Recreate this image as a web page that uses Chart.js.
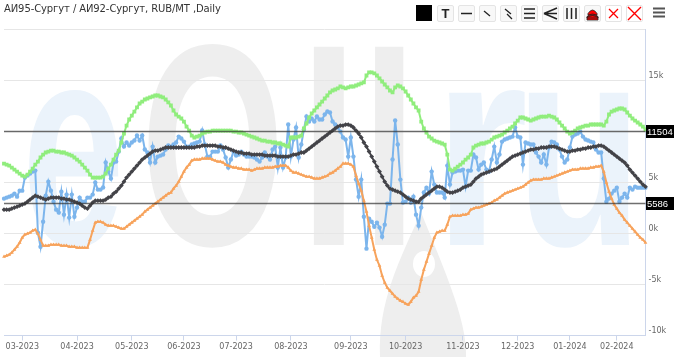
<!DOCTYPE html>
<html><head><meta charset="utf-8">
<script src="https://cdn.jsdelivr.net/npm/chart.js@4/dist/chart.umd.min.js"></script>
<style>
html,body{margin:0;padding:0;background:#fff;width:680px;height:357px;overflow:hidden}
#wrap{position:relative;width:680px;height:357px}
canvas{position:absolute;left:0;top:0}
#title{position:absolute;left:4px;top:3px;font:10px "DejaVu Sans",sans-serif;letter-spacing:-.1px;color:#333;white-space:nowrap}
.b{position:absolute;top:5px;width:15px;height:15px;border:1px solid #e4e4e4;border-radius:2px;background:#f8f8f8}
.b svg{display:block}
.b span{display:block;text-align:center;font:bold 13px/15px "Liberation Sans",sans-serif;color:#222}
</style></head><body>
<div id="wrap">
<canvas id="c" width="680" height="357"></canvas>
<div id="title">АИ95-Сургут / АИ92-Сургут, RUB/MT ,Daily</div>
<div style="position:absolute;left:416px;top:5px;width:16px;height:16px;background:#000"></div>
<div class="b" style="left:437px"><span>T</span></div>
<div class="b" style="left:458px"><svg width="15" height="15"><path d="M2 7.5H13" stroke="#222" stroke-width="1.5"/></svg></div>
<div class="b" style="left:479px"><svg width="15" height="15"><path d="M4 5L10 10" stroke="#222" stroke-width="1.3"/></svg></div>
<div class="b" style="left:500px"><svg width="15" height="15"><path d="M4 3L10 8M6 8L11 13" stroke="#222" stroke-width="1.3"/></svg></div>
<div class="b" style="left:521px"><svg width="15" height="15"><path d="M2 3H13M2 7.5H13M2 12H13" stroke="#222" stroke-width="1.5"/></svg></div>
<div class="b" style="left:542px"><svg width="15" height="15"><path d="M14 2L1 7.5H14M1 7.5L14 13" stroke="#222" stroke-width="1.5" fill="none"/></svg></div>
<div class="b" style="left:563px"><svg width="15" height="15"><path d="M3 2V13M7.5 2V13M12 2V13" stroke="#222" stroke-width="1.5"/></svg></div>
<div class="b" style="left:584px"><svg width="15" height="15"><path d="M2 14V11Q7.5 8 13 11V14ZM2 10.5Q7.5 5.5 13 10.5V12H2ZM3 7.5Q7.5 .5 12 7.5V9H3Z" fill="#f00" stroke="#222" stroke-width=".8"/></svg></div>
<div class="b" style="left:605px;background:#fff"><svg width="15" height="15"><path d="M3 3L12 12M12 3L3 12" stroke="#f00" stroke-width="1.3"/></svg></div>
<div class="b" style="left:626px;background:#fff"><svg width="15" height="15"><path d="M1 1L14 14M14 1L1 14" stroke="#f00" stroke-width="1.4"/></svg></div>
<svg style="position:absolute;left:653px;top:7px" width="12" height="12"><path d="M0 1.5H12M0 5.5H12M0 9.5H12" stroke="#555" stroke-width="2"/></svg>
</div>
<script>
const monthIndex=[7,28,49,69,89,110,133,154,176,197,217,235];
const monthLabels=["03-2023","04-2023","05-2023","06-2023","07-2023","08-2023","09-2023","10-2023","11-2023","12-2023","01-2024","02-2024"];
const levelValues=[10020,3010];
const levelLabels=["11504","5586"];
const yTickHidden=[20000,10000];

const spread=[
3400,3500,3590,3690,3890,3590,4180,4180,5460,5650,
5850,6040,6140,70,-1310,1140,3690,5060,4180,3100,
2320,2030,4080,1830,3790,1540,3790,1630,2520,3500,
3100,3100,3500,3500,3790,4970,4280,4280,4480,6930,
6040,5360,6930,7020,8000,9280,8490,8890,8590,8890,
9080,9570,9080,9570,8200,7910,6930,8490,6930,7510,
7610,7710,8200,8590,8490,8690,8890,9470,9280,8980,
8490,8490,8690,8790,8890,8980,10060,8690,7510,7510,
8000,8000,8000,8590,8200,7420,6440,7220,8000,7610,
7710,8000,7710,7510,7510,7510,7420,7220,7020,7420,
7910,7510,7220,8200,8490,6440,8400,6440,7420,10650,
7510,9180,10360,7420,8690,10160,11430,10940,11240,10940,
11430,11140,11140,11630,11920,11830,10940,10650,10360,9960,
9380,9180,7510,9380,7510,5260,3590,5260,1630,-1500,
1440,1140,650,1050,560,-330,850,2910,2910,7220,
11040,8690,5260,3010,3100,3500,3010,3590,1830,750,
2520,3990,4470,3890,6040,4770,3990,3990,3990,3500,
6630,4770,5950,6040,6140,6140,6240,4570,6140,6140,
7710,7420,6240,6730,6930,6240,6040,7220,8490,6930,
7710,8980,9180,9280,9380,9470,10360,9470,9380,6730,
8890,8790,8690,8690,7910,7510,6930,7710,6730,8400,
8980,8890,8690,8200,7510,6930,7220,8400,9470,9670,
9770,9960,9470,9180,9080,8980,8890,8200,7910,7910,
5360,3100,3400,3890,4180,4470,3100,3500,3890,3500,
4470,4280,4570,4470,4470,4470,4470];

const maxSpread=[
6830,6730,6630,6440,6240,6040,5850,5650,5550,5750,
6040,6340,6730,7020,7420,7710,7910,8000,8100,8100,
8000,8000,7910,7910,7810,7710,7610,7420,7220,7020,
6730,6440,6140,5750,5460,5460,5460,5460,5550,5850,
6340,6730,7220,7710,8100,8890,9770,10550,11140,11530,
11920,12320,12710,12900,13100,13200,13300,13390,13490,13490,
13390,13300,13100,12810,12510,12020,11630,11430,11240,10940,
10450,10060,9570,9380,9470,9570,9770,9870,9960,9960,
10060,10060,10060,10060,10060,10060,10060,10060,9960,9960,
9870,9870,9770,9670,9570,9470,9380,9280,9180,9080,
9080,8980,8980,8890,8890,8790,8790,8690,8590,8490,
9380,9380,9380,9470,9570,10260,10750,11340,11730,12020,
12320,12610,12900,13200,13490,13790,13980,14080,14180,14370,
14280,14180,14280,14370,14370,14470,14570,14670,14770,15450,
15750,15750,15650,15450,15160,14860,14570,14280,13980,13790,
14280,14470,14370,14180,13880,13490,13100,12710,12320,12020,
10940,10260,9870,9470,9280,9080,8980,8890,8790,8690,
7710,6240,6140,6340,6530,6730,6930,7220,7420,7710,
8400,8590,8690,8790,8790,8890,8980,9180,9380,9470,
9570,9670,9870,10060,10260,10450,10750,11040,11340,11340,
11240,11140,11040,11140,11240,11340,11430,11430,11430,11530,
11430,11340,11140,10850,10550,10260,9960,9770,9870,10060,
10260,10360,10450,10550,10550,10650,10650,10650,10650,10650,
10550,10940,11630,11920,12020,12120,12220,12220,12120,11830,
11530,11240,11040,10850,10650,10450,10160];

const minSpread=[
-2290,-2190,-2090,-1890,-1600,-1310,-910,-420,-130,-30,
70,260,360,-30,-620,-1210,-1210,-1210,-1110,-1110,
-1110,-1110,-1210,-1210,-1210,-1310,-1310,-1310,-1400,-1400,
-1400,-1400,-1400,-620,260,1050,1140,1140,1050,850,
750,750,750,650,560,460,460,650,850,1050,
1240,1440,1630,1830,2120,2320,2520,2710,2910,3100,
3300,3500,3690,3890,3990,4380,4670,5060,5550,6040,
6440,6730,7120,7220,7220,7220,7320,7320,7320,7320,
7220,7120,7020,7020,6930,6730,6630,6530,6440,6440,
6340,6340,6240,6240,6240,6140,6240,6340,6340,6340,
6440,6440,6440,6440,6530,6530,6630,6630,6630,6440,
6140,5950,5950,5850,5750,5650,5550,5550,5460,5360,
5360,5360,5460,5550,5650,5850,5950,6140,6340,6530,
6830,6830,6830,6730,6530,5650,4870,4180,3200,2120,
750,-420,-1600,-2580,-3170,-4150,-4830,-5320,-5620,-5910,
-6200,-6400,-6600,-6700,-6890,-6990,-6700,-6300,-6110,-5720,
-4540,-3560,-2780,-1990,-1210,-420,70,160,260,260,
850,1630,1730,1730,1730,1730,1830,1830,1930,2320,
2420,2520,2520,2610,2710,2810,2910,3010,3200,3300,
3500,3690,3890,3990,4080,4180,4280,4380,4470,4570,
4770,4970,5160,5260,5260,5260,5260,5360,5360,5360,
5460,5550,5650,5750,5850,5950,6040,6140,6240,6240,
6240,6340,6340,6340,6340,6440,6440,6530,6530,6630,
6040,4970,4080,3400,2810,2420,2020,1730,1340,1050,
750,460,160,-130,-420,-620,-910];

const avgSpread=[
2320,2320,2320,2420,2520,2610,2710,2810,2910,3100,
3300,3500,3690,3590,3500,3400,3300,3400,3500,3500,
3500,3500,3400,3400,3300,3300,3200,3100,3010,2910,
2710,2520,2420,2710,3010,3200,3200,3200,3200,3300,
3500,3590,3890,4080,4380,4670,5060,5460,5750,6040,
6340,6630,6930,7220,7420,7610,7810,8000,8100,8100,
8200,8300,8400,8400,8400,8400,8400,8400,8400,8400,
8400,8400,8400,8400,8490,8490,8590,8590,8590,8590,
8590,8590,8490,8490,8400,8400,8300,8200,8100,8000,
7910,7910,7810,7810,7810,7710,7710,7710,7710,7710,
7610,7610,7610,7610,7610,7510,7510,7510,7510,7510,
7610,7710,7710,7810,7910,7910,8100,8300,8490,8690,
8890,9080,9280,9470,9670,9870,10060,10260,10450,10550,
10550,10650,10650,10550,10360,10060,9770,9380,8890,8490,
8000,7510,7020,6530,6040,5550,5060,4670,4380,4280,
4180,4080,3990,3790,3590,3400,3300,3200,3100,3100,
3400,3590,3790,3990,4180,4380,4570,4570,4470,4280,
4080,3990,3990,4080,4180,4280,4470,4570,4670,4770,
5060,5360,5550,5750,5850,5950,6040,6140,6240,6340,
6530,6730,6930,7120,7320,7510,7610,7710,7810,7910,
8000,8100,8200,8200,8300,8300,8400,8400,8400,8490,
8490,8490,8400,8300,8200,8100,8000,8000,8100,8100,
8200,8200,8300,8300,8400,8400,8490,8490,8590,8590,
8490,8300,8100,7910,7710,7510,7320,7120,6930,6630,
6240,5950,5650,5360,5060,4770,4570];

const sessions=spread.map((_,i)=>String(i));

const watermark={id:'watermark',beforeDraw(ch){
  const g=ch.ctx;
  const letters=[["e",22,245,.64,"#ebf3fb"],["O",141,245,.64,"#eeeeee"],["I",300,245,.72,"#eeeeee"],["I",362,245,.68,"#eeeeee"],["r",433,245,.85,"#ebf3fb"],["u",516,245,.72,"#ebf3fb"]];
  g.save();
  g.fillStyle="#fff";g.fillRect(0,0,680,357);
  g.font='bold 288px "Liberation Sans"';
  letters.forEach(l=>{g.save();g.translate(l[1],l[2]);g.scale(l[3],1);g.fillStyle=l[4];g.fillText(l[0],0,0);g.restore();});
  g.fillStyle="#eeeeee";
  g.beginPath();g.moveTo(421,212);
  g.bezierCurveTo(400,260,378,300,380,357);
  g.lineTo(466,357);
  g.bezierCurveTo(468,320,440,260,421,212);g.fill();
  g.fillStyle="#fff";g.beginPath();g.ellipse(424,264,11,13,0,0,7);g.fill();
  g.restore();
}};

const levels={id:'levels',afterDatasetsDraw(ch){
  const g=ch.ctx,a=ch.chartArea,y=ch.scales.y;
  g.save();
  levelValues.forEach((v,i)=>{
    const p=Math.round(y.getPixelForValue(v))+.5;
    g.strokeStyle="rgba(50,50,50,.7)";g.lineWidth=1.5;
    g.beginPath();g.moveTo(a.left,p);g.lineTo(a.right,p);g.stroke();
    g.fillStyle="#000";g.fillRect(646,p-6.5,28,13);
    g.fillStyle="#fff";g.font='9.5px "Liberation Sans"';g.textBaseline="middle";g.textAlign="left";
    g.fillText(levelLabels[i],647,p+.5);
  });
  g.restore();
}};

const mk=(data,color,style,order,r)=>({data,borderColor:color,backgroundColor:color,borderWidth:2,pointStyle:style,pointRadius:r,pointBorderWidth:0,pointHoverRadius:r,tension:0,order});

new Chart(document.getElementById('c'),{
  type:'line',
  data:{labels:sessions,datasets:[
    mk(avgSpread,"#434348","rectRot",1,2.4),
    mk(minSpread,"#f7a35c","triangle",2,2.2),
    mk(maxSpread,"#90ed7d","rect",3,2.7),
    mk(spread,"#7cb5ec","circle",4,2.2)
  ]},
  plugins:[watermark,levels],
  options:{
    responsive:false,animation:false,
    layout:{padding:{left:4,top:29,right:0,bottom:0}},
    plugins:{legend:{display:false},title:{display:false},tooltip:{enabled:false}},
    scales:{
      x:{type:'category',offset:false,
        afterBuildTicks(s){s.ticks=monthIndex.map(v=>({value:v}));},
        afterFit(s){s.height=21.5;},
        grid:{drawOnChartArea:false,drawTicks:true,tickLength:5,color:"#ccd6eb"},
        border:{display:true,color:"#ccd6eb",width:1},
        ticks:{autoSkip:false,maxRotation:0,minRotation:0,padding:2,color:"#666",font:{family:"DejaVu Sans",size:8},
          callback(v){return monthLabels[monthIndex.indexOf(v)];}}
      },
      y:{position:'right',min:-10000,max:20000,
        afterFit(s){s.width=34.5;},
        grid:{color:"#e6e6e6",drawTicks:false},
        border:{display:true,color:"#ccd6eb",width:1},
        ticks:{stepSize:5000,padding:3,labelOffset:-4.5,color:"#666",font:{family:"DejaVu Sans",size:8},
          callback(v){return yTickHidden.includes(v)?"":(v/1000)+"k";}}
      }
    }
  }
});
</script>
</body></html>
